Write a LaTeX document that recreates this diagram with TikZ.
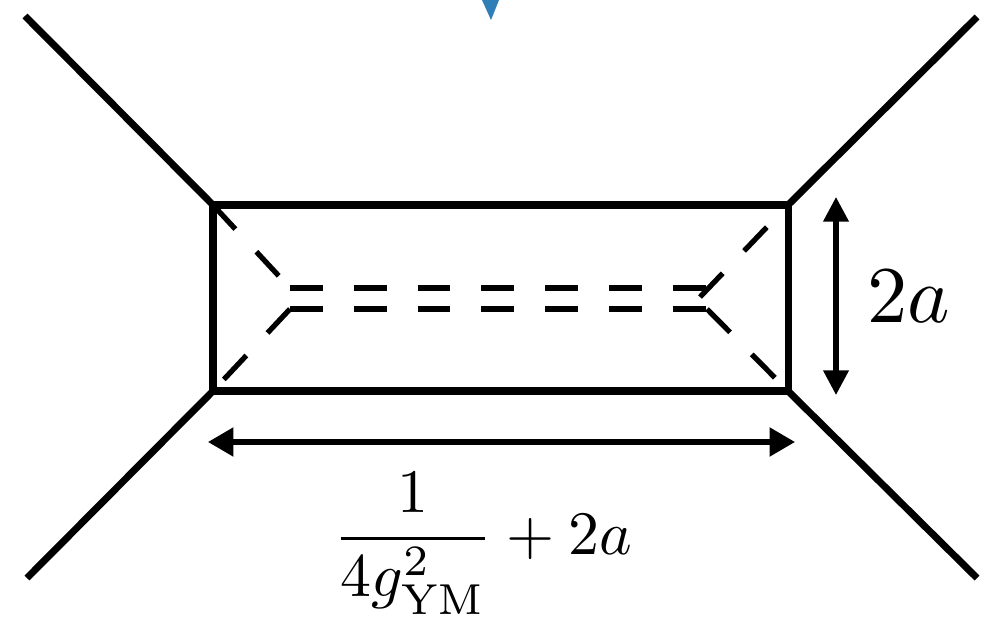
\documentclass[tikz,border=0pt]{standalone}
\usetikzlibrary{arrows.meta}
\definecolor{topblue}{RGB}{46,126,184}
\begin{document}
\begin{tikzpicture}[x=0.02cm,y=-0.02cm,
  thickline/.style={line width=4pt},
  dashline/.style={line width=3pt, dash pattern=on 18.7pt off 17.6pt},
  dimarrow/.style={line width=2.9pt, {Triangle[length=14.5pt,width=16pt]}-{Triangle[length=14.5pt,width=16pt]}},
  lab/.style={inner sep=0pt, anchor=base west}]
\useasboundingbox (0,0) rectangle (999,618);
% blue arrow tip at the top
\fill[topblue] (482,0) -- (499,0) -- (491,20) -- cycle;
% corners
\coordinate (TL) at (213,205);
\coordinate (TR) at (788,205);
\coordinate (BL) at (213,391);
\coordinate (BR) at (788,391);
\coordinate (oTL) at (25,16);
\coordinate (oTR) at (977,17);
\coordinate (oBL) at (27,578);
\coordinate (oBR) at (977,578);
% box and external legs
\draw[thickline, line join=miter] (TL) -- (TR) -- (BR) -- (BL) -- cycle;
\draw[thickline] (oTL) -- (TL);
\draw[thickline] (oTR) -- (TR);
\draw[thickline] (oBL) -- (BL);
\draw[thickline] (oBR) -- (BR);
% dashed inner lines
\coordinate (uL) at (290,288);
\coordinate (uR) at (707,288);
\coordinate (lL) at (290,309);
\coordinate (lR) at (707,309);
\coordinate (xR) at (700,297);
\draw[dashline] (TL) -- (uL);
\draw[dashline] (lL) -- (BL);
\draw[dashline] (uL) -- (uR);
\draw[dashline] (lL) -- (lR);
\draw[dashline] (xR) -- (TR);
\draw[dashline] (lR) -- (BR);
% dimension arrows
\coordinate (hA) at (208,442);
\coordinate (hB) at (795,442);
\coordinate (vA) at (836,197);
\coordinate (vB) at (836,395);
\draw[dimarrow] (hA) -- (hB);
\draw[dimarrow, {Triangle[length=14pt,width=14pt]}-{Triangle[length=14pt,width=14pt]}] (vA) -- (vB);
% labels
\node[lab, scale=4.58] (height) at (866,322) {$2a$};
\node[lab, scale=3.52] (width) at (332,554) {$\displaystyle\frac{1}{4g_{\mathrm{YM}}^2}+2a$};
\end{tikzpicture}
\end{document}
